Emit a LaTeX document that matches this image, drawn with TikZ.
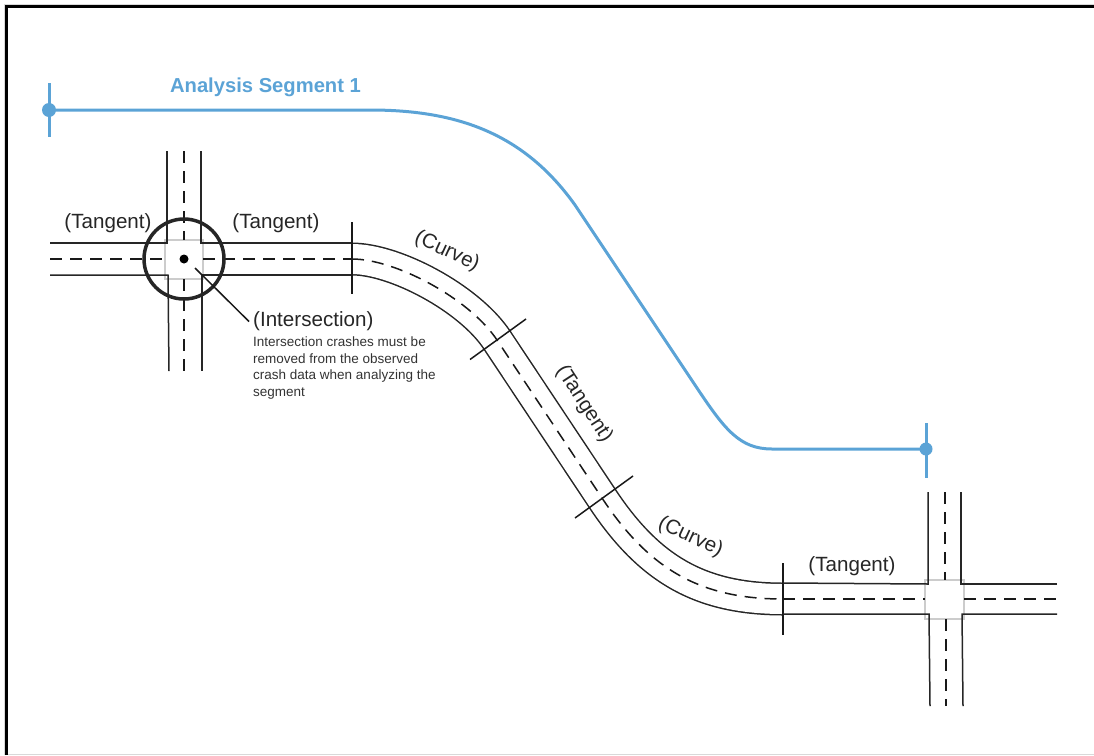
\documentclass[tikz,border=0pt]{standalone}
\usepackage{fontspec}
\setmainfont{Liberation Sans}
\definecolor{segblue}{HTML}{5BA3D6}
\definecolor{boxgray}{HTML}{CCCCCC}
\begin{document}
\begin{tikzpicture}[x=1pt, y=-1pt,
    edge/.style={draw=black!85, line width=1.5pt},
    lane/.style={draw=black!90, line width=1.5pt, dash pattern=on 12pt off 8pt},
    tick/.style={draw=black!90, line width=1.5pt},
    junction/.style={draw=boxgray, line width=1.2pt, fill=white},
    segment/.style={draw=segblue, line width=3pt},
    label/.style={font=\fontsize{20.6}{24}\selectfont, text=black!85, inner sep=0pt}]
    \useasboundingbox (0,0) rectangle (1094,755);
    \draw [black!15, line width=1pt] (1094,754.5) -- (4,754.5) -- (4,4) -- (1094,4);
    \draw [black, line width=3.4pt] (6.5,755) -- (6.5,6.6) -- (1094,6.6);
    % analysis segment
    \coordinate (segstart) at (49,110);
    \coordinate (segend) at (926,449);
    \draw [segment] (segstart) -- (370,110) .. controls (460,110) and (525,135) .. (575,205)
        -- (697,388) .. controls (725,430) and (740,449) .. (772,449) -- (segend);
    \draw [segment] (49,83) -- (49,137);
    \draw [segment] (926,423) -- (926,478);
    \fill [segblue] (segstart) circle[radius=7];
    \fill [segblue] (segend) circle[radius=6.5];
    \node [font=\bfseries\fontsize{20.2}{24}\selectfont, text=segblue, inner sep=0pt] (seglabel) at (265.5,87) {Analysis Segment 1};
    % left intersection
    \filldraw [junction] (165,240) rectangle (203,279);
    \draw [edge] (50,243) -- (167,243) -- (167,151);
    \draw [edge] (352,243) -- (201,243) -- (201,151);
    \draw [edge] (50,275) -- (168,275) -- (169,371);
    \draw [edge] (352,275) -- (202,275) -- (202,371);
    \draw [lane] (50,259) -- (165,259);
    \draw [lane] (203,259) -- (352,259);
    \draw [lane] (184,151) -- (184,240);
    \draw [lane] (184,279) -- (184,371);
    % curved part of the road
    \draw [edge, double=white, double distance=30pt] (352,259) .. controls (395,259) and (469,298) .. (497,340)
        -- (602,498) .. controls (649,569) and (700,599) .. (783,599);
    \draw [lane] (352,259) .. controls (395,259) and (469,298) .. (497,340)
        -- (602,498) .. controls (649,569) and (700,599) .. (783,599);
    \draw [tick] (352,222) -- (352,294);
    \draw [tick] (470,359.5) -- (526,319);
    \draw [tick] (575,518) -- (633,476);
    \draw [tick] (783,563) -- (783,635);
    % right intersection
    \filldraw [junction] (925,580) rectangle (964,619);
    \draw [edge] (783,583) -- (928,584) -- (928,492);
    \draw [edge] (1057,584) -- (961,584) -- (961,492);
    \draw [edge] (783,614) -- (929,614) -- (930,706);
    \draw [edge] (1057,614) -- (962,614) -- (963,706);
    \draw [lane] (783,599) -- (925,599);
    \draw [lane] (964,599) -- (1057,599);
    \draw [lane] (945,492) -- (945,580);
    \draw [lane] (946,619) -- (946,706);
    % highlighted intersection
    \coordinate (hub) at (184,259);
    \coordinate (leadstart) at (195,268);
    \draw [black!85, line width=3.5pt] (hub) circle[radius=40];
    \fill [black] (hub) circle[radius=4.5];
    \node [label, anchor=west, inner xsep=4pt] (intlabel) at (249,321.5) {(Intersection)};
    \draw [tick] (leadstart) -- (intlabel.west);
    \node [anchor=north west, inner sep=0pt, align=left, font=\fontsize{13.5}{16.5}\selectfont, text=black!80] (intnote) at (253,337)
        {Intersection crashes must be\\removed from the observed\\crash data when analyzing the\\segment};
    % labels
    \node [label] (tanone) at (108,223) {(Tangent)};
    \node [label] (tantwo) at (276,223) {(Tangent)};
    \node [label, rotate=-25] (curveone) at (447,251.5) {(Curve)};
    \node [label, rotate=-57] (tanthree) at (584,404) {(Tangent)};
    \node [label, rotate=-25] (curvetwo) at (690.5,537) {(Curve)};
    \node [label] (tanfour) at (852,566) {(Tangent)};
\end{tikzpicture}
\end{document}
